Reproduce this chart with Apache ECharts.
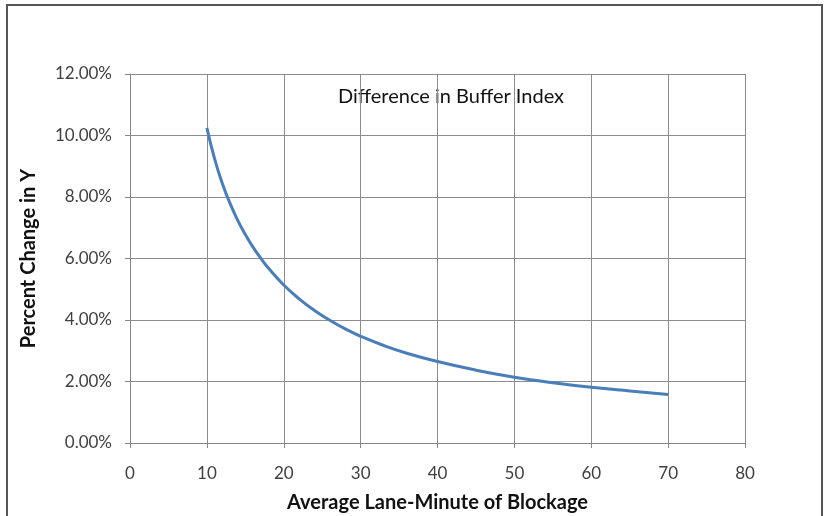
<!DOCTYPE html>
<html>
<head>
<meta charset="utf-8">
<script src="https://cdn.jsdelivr.net/npm/echarts@6/dist/echarts.min.js"></script>
<style>
html,body{margin:0;padding:0;background:#fff;}
#c{width:825px;height:516px;}
</style>
</head>
<body>
<div id="c"></div>
<script>
const chartTitle = 'Difference in Buffer Index';
const xAxisName = 'Average Lane-Minute of Blockage';
const yAxisName = 'Percent Change in Y';
const xValues = [10, 11, 12, 13, 14, 15, 16, 17, 18, 20, 22, 24, 26, 28, 30, 33, 36, 40, 45, 50, 55, 60, 65, 70];
const yValues = [10.25, 9.25, 8.45, 7.80, 7.25, 6.78, 6.37, 6.01, 5.69, 5.14, 4.69, 4.31, 3.99, 3.71, 3.47, 3.17, 2.92, 2.65, 2.37, 2.14, 1.96, 1.81, 1.69, 1.58];

const font = 'Lato, Open Sans, sans-serif';
const chart = echarts.init(document.getElementById('c'), null, {renderer: 'canvas'});
chart.setOption({
  animation: false,
  backgroundColor: '#ffffff',
  grid: {left: 130, right: 80, top: 74, bottom: 73, containLabel: false, outerBoundsMode: 'none'},
  graphic: [
    {type: 'rect', shape: {x: 7, y: 5, width: 815, height: 530}, style: {fill: 'none', stroke: '#555555', lineWidth: 2}, silent: true},
    {type: 'text', x: 451, y: 97, style: {text: chartTitle, font: '20px ' + font, fill: '#111111', textAlign: 'center', textVerticalAlign: 'middle'}}
  ],
  xAxis: {
    type: 'value', min: 0, max: 80, interval: 10,
    name: xAxisName, nameLocation: 'middle', nameGap: 50,
    nameTextStyle: {fontFamily: font, fontWeight: 'bold', fontSize: 20, color: '#111'},
    axisLine: {show: true, lineStyle: {color: '#868686', width: 1}},
    axisTick: {show: true, length: 5, lineStyle: {color: '#868686'}},
    axisLabel: {fontFamily: font, fontSize: 17, color: '#404040', margin: 22},
    splitLine: {show: true, lineStyle: {color: '#8c8c8c', width: 1}}
  },
  yAxis: {
    type: 'value', min: 0, max: 12, interval: 2,
    name: yAxisName, nameLocation: 'middle', nameGap: 91,
    nameTextStyle: {fontFamily: font, fontWeight: 'bold', fontSize: 20, color: '#111'},
    axisLine: {show: true, lineStyle: {color: '#868686', width: 1}},
    axisTick: {show: true, length: 5, lineStyle: {color: '#868686'}},
    axisLabel: {fontFamily: font, fontSize: 17, color: '#404040', margin: 18,
      formatter: v => v.toFixed(2) + '%'},
    splitLine: {show: true, lineStyle: {color: '#8c8c8c', width: 1}}
  },
  series: [{
    type: 'line',
    data: xValues.map((x, i) => [x, yValues[i]]),
    smooth: 0.5,
    showSymbol: false,
    lineStyle: {color: '#4A7EBB', width: 3},
    itemStyle: {color: '#4A7EBB'}
  }]
});
</script>
</body>
</html>
